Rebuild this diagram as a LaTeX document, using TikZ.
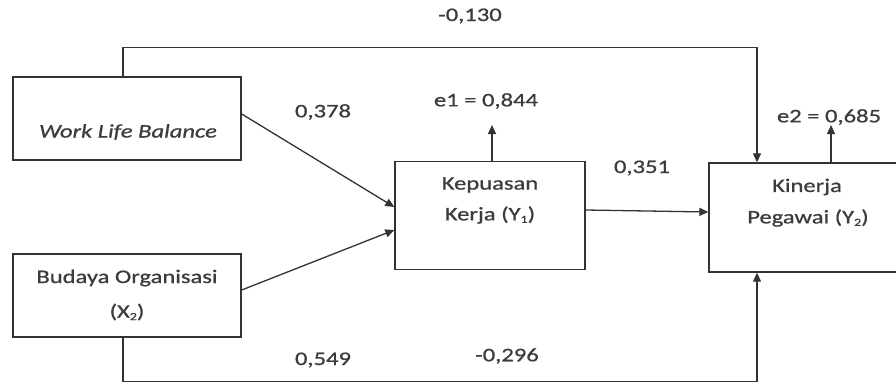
\documentclass[tikz,border=0pt]{standalone}
\usepackage{fontspec}
\setmainfont{Carlito}[FakeStretch=1.28,FakeBold=0.8]
\usetikzlibrary{arrows.meta}
\definecolor{ln}{HTML}{333333}
\definecolor{tx}{HTML}{3C3C3C}
\newcommand\mysubs[1]{\raisebox{-2.5pt}{\fontsize{11}{11}\selectfont #1}}
\tikzset{
  box/.style={draw=ln, line width=1.4pt, minimum width=228pt, minimum height=83pt, inner sep=0pt},
  lbl/.style={text=tx, font=\fontsize{19.2}{30}\selectfont, inner sep=0pt, align=center},
  con/.style={draw=ln, line width=1.3pt, -{Triangle[length=9pt,width=8pt]}},
}
\begin{document}
\begin{tikzpicture}[x=1pt,y=-1pt]
\clip (0,0) rectangle (896,383);
\fill[white] (0,0) rectangle (896,383);
% boxes
\node[box] (wlb) at (127,118.5) {};
\node[box] (bud) at (127,295.5) {};
\node[box, minimum width=190pt, minimum height=108pt] (kep) at (490,215.5) {};
\node[box, minimum width=196pt, minimum height=109pt] (kin) at (807,217.5) {};
% box texts
\node[lbl, font=\fontsize{19.2}{30}\selectfont\itshape] (twlb) at (128,132) {Work Life Balance};
\node[lbl] (tbud1) at (127,278) {Budaya Organisasi};
\node[lbl] (tbud2) at (127,312) {(X\mysubs{2})};
\node[lbl] (tkep1) at (490,185) {Kepuasan};
\node[lbl] (tkep2) at (490,215) {Kerja (Y\mysubs{1})};
\node[lbl] (tkin1) at (807,187) {Kinerja};
\node[lbl] (tkin2) at (808,218) {Pegawai (Y\mysubs{2})};
% coefficient labels
\node[lbl] (c130) at (470,16) {-0,130};
\node[lbl] (c378) at (323,112) {0,378};
\node[lbl] (ce1) at (486,101) {e1 = 0,844};
\node[lbl] (c351) at (642,168) {0,351};
\node[lbl] (ce2) at (829,117) {e2 = 0,685};
\node[lbl] (c549) at (323,360) {0,549};
\node[lbl] (c296) at (507,356) {-0,296};
% residual coordinates
\coordinate (e1end) at ([xshift=2pt]kep.north |- 0,125);
\coordinate (e2end) at ([xshift=24pt]kin.north |- 0,125);
% connectors
\draw[con] ([yshift=4.5pt]wlb.east) -- ([yshift=8.5pt]kep.west);
\draw[con] ([yshift=5.5pt]bud.east) -- ([yshift=-14.5pt]kep.west);
\draw[con] ([yshift=5.5pt]kep.east) -- ([yshift=5.5pt]kin.west);
\draw[con] ([xshift=2pt]kep.north) -- (e1end);
\draw[con] ([xshift=24pt]kin.north) -- (e2end);
\draw[con] ([xshift=-4pt]wlb.north) -- ++(0,-29) -| ([xshift=-50pt]kin.north);
\draw[con] ([xshift=-4pt]bud.south) -- ++(0,44) -| ([xshift=-50pt]kin.south);
\end{tikzpicture}
\end{document}
